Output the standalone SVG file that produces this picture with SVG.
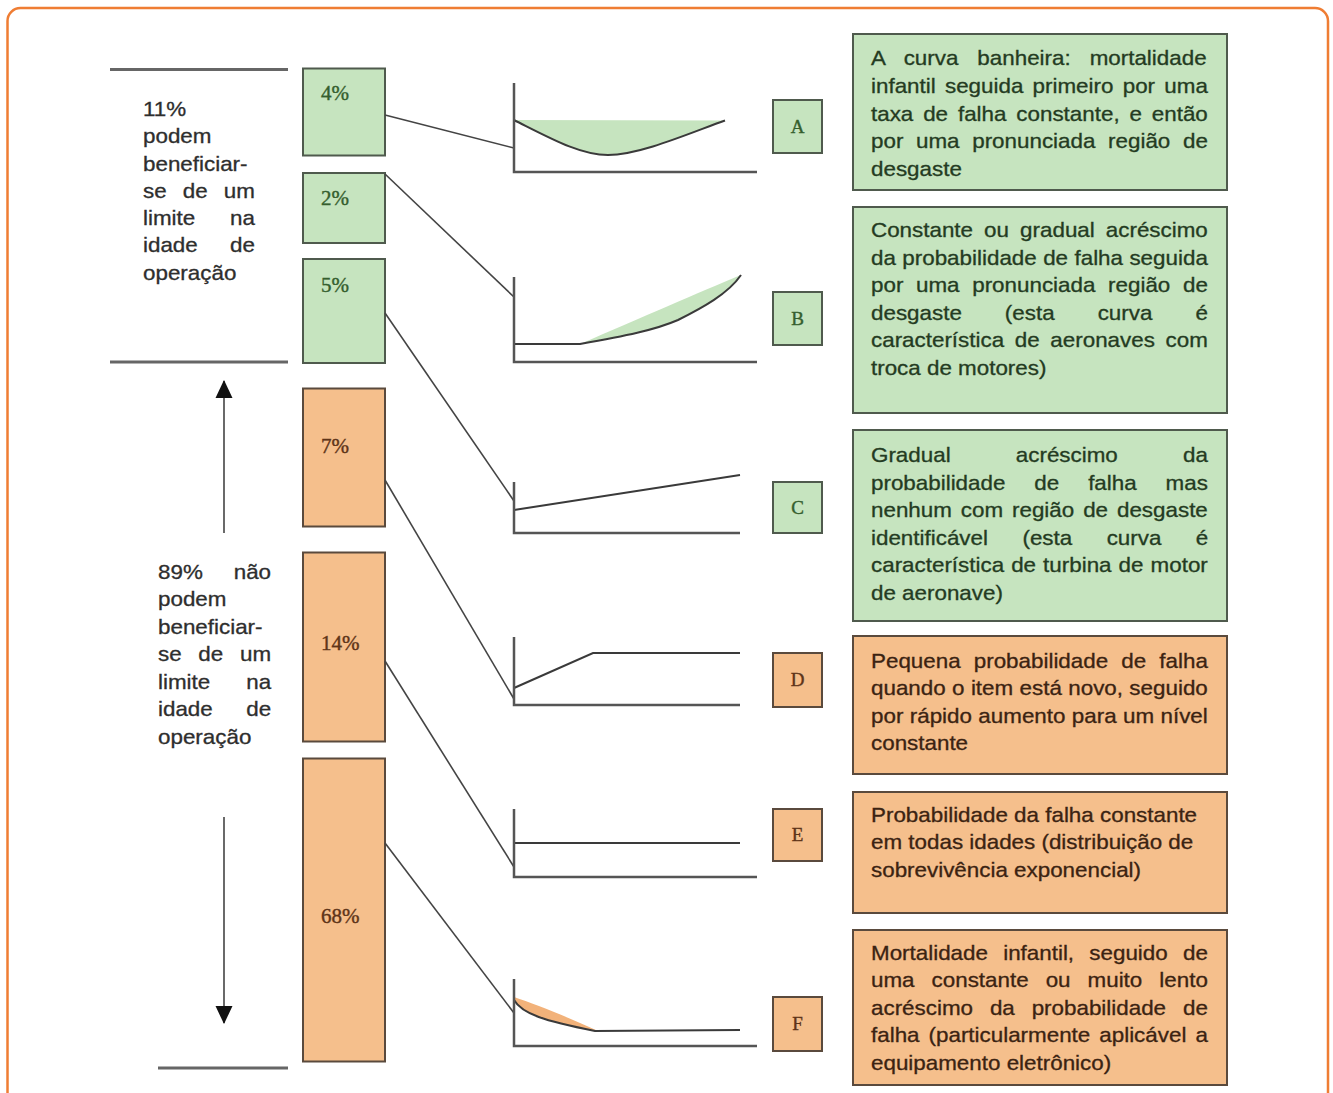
<svg xmlns="http://www.w3.org/2000/svg" width="1333" height="1093" viewBox="0 0 1333 1093">
<defs>
<style>
.frame{fill:#ffffff;stroke:#EF7D33;stroke-width:2.5}
.sep{stroke:#666;stroke-width:3;fill:none}
.pg{fill:#C6E4BF;stroke:#4f5a4d;stroke-width:2}
.po{fill:#F5BF8C;stroke:#5a4a3d;stroke-width:2}
.pct{font-family:"Liberation Serif","Times New Roman",serif;font-size:21px;stroke-width:0.4}
.tg{fill:#355e2e;stroke:#355e2e}
.to{fill:#5e3418;stroke:#5e3418}
.lt{font-family:"Liberation Sans",Arial,sans-serif;font-size:20px;fill:#2e2e2e;stroke:#2e2e2e;stroke-width:0.3}
.dt{font-family:"Liberation Sans",Arial,sans-serif;font-size:20px;stroke-width:0.3}
.dg{fill:#243b22;stroke:#243b22}
.do{fill:#3b2312;stroke:#3b2312}
.ax{stroke:#555;stroke-width:2.5;fill:none}
.cv{stroke:#3a3a3a;stroke-width:2;fill:none}
.cn{stroke:#444;stroke-width:1.6;fill:none}
.ar{stroke:#444;stroke-width:1.6;fill:none}
.let{font-family:"Liberation Serif","Times New Roman",serif;font-size:19px;text-anchor:middle;stroke-width:0.4}
</style>
<marker id="ah2" viewBox="0 0 18 18" refX="17" refY="9" markerWidth="18" markerHeight="18" markerUnits="userSpaceOnUse" orient="auto">
<path d="M0,0.5 L18,9 L0,17.5 Z" fill="#111"/>
</marker>
</defs>

<rect class="frame" x="7.5" y="8" width="1320.5" height="1110" rx="13"/>

<g id="separators">
<line class="sep" x1="110" y1="69.5" x2="288" y2="69.5"/>
<line class="sep" x1="110" y1="362" x2="288" y2="362"/>
<line class="sep" x1="158" y1="1068" x2="288" y2="1068"/>
</g>

<g id="label-11">
<g transform="translate(143 0) scale(1.12 1)" class="lt">
<text x="0" y="116">11%</text>
<text x="0" y="143.3">podem</text>
<text x="0" y="170.6">beneficiar-</text>
<text x="0" y="197.9" word-spacing="8.87">se de um</text>
<text x="0" y="225.2" word-spacing="25.54">limite na</text>
<text x="0" y="252.5" word-spacing="23.28">idade de</text>
<text x="0" y="279.8">operação</text>
</g>
</g>

<g id="label-89">
<g transform="translate(158 0) scale(1.12 1)" class="lt">
<text x="0" y="579" word-spacing="22.06">89% não</text>
<text x="0" y="606.5">podem</text>
<text x="0" y="634">beneficiar-</text>
<text x="0" y="661.5" word-spacing="9.37">se de um</text>
<text x="0" y="689" word-spacing="26.54">limite na</text>
<text x="0" y="716.5" word-spacing="24.28">idade de</text>
<text x="0" y="744">operação</text>
</g>
</g>

<g id="arrows">
<line class="ar" x1="224" y1="533" x2="224" y2="381" marker-end="url(#ah2)"/>
<line class="ar" x1="224" y1="817" x2="224" y2="1023" marker-end="url(#ah2)"/>
</g>

<g id="p4"><rect class="pg" x="303" y="68.5" width="82" height="87"/><text class="pct tg" x="321" y="100">4%</text></g>
<g id="p2"><rect class="pg" x="303" y="173" width="82" height="70"/><text class="pct tg" x="321" y="205">2%</text></g>
<g id="p5"><rect class="pg" x="303" y="259" width="82" height="104"/><text class="pct tg" x="321" y="292">5%</text></g>
<g id="p7"><rect class="po" x="303" y="388.5" width="82" height="138"/><text class="pct to" x="321" y="453">7%</text></g>
<g id="p14"><rect class="po" x="303" y="552.5" width="82" height="189"/><text class="pct to" x="321" y="650">14%</text></g>
<g id="p68"><rect class="po" x="303" y="758.5" width="82" height="303"/><text class="pct to" x="321" y="923">68%</text></g>

<g id="connectors">
<line class="cn" x1="385" y1="115" x2="514" y2="148"/>
<line class="cn" x1="385" y1="174" x2="514" y2="297"/>
<line class="cn" x1="385" y1="313" x2="514" y2="501"/>
<line class="cn" x1="385" y1="480" x2="514" y2="699"/>
<line class="cn" x1="385" y1="661" x2="514" y2="867"/>
<line class="cn" x1="385" y1="843" x2="514" y2="1013"/>
</g>

<g id="graph-A">
<path d="M514,120 C550,138 580,155 608,155 C640,155 690,133 725,120.5 Z" fill="#C6E4BF"/>
<path class="cv" d="M514,120 C550,138 580,155 608,155 C640,155 690,133 725,120.5"/>
<path class="ax" d="M514,83 V172 H757"/>
</g>
<g id="graph-B">
<path d="M580,344 C625,336 655,330 678,320 C702,308 728,294 741,275 C700,292 640,318 580,344 Z" fill="#C6E4BF"/>
<path class="cv" d="M514,344 H580 C625,336 655,330 678,320 C702,308 728,294 741,275"/>
<path class="ax" d="M514,277 V362 H757"/>
</g>
<g id="graph-C">
<path class="cv" d="M514,510 L740,475"/>
<path class="ax" d="M514,482 V533 H740"/>
</g>
<g id="graph-D">
<path class="cv" d="M514,688 L593,653 H740"/>
<path class="ax" d="M514,637 V705 H740"/>
</g>
<g id="graph-E">
<path class="cv" d="M514,843 H740"/>
<path class="ax" d="M514,809 V877 H757"/>
</g>
<g id="graph-F">
<path d="M514,997 C535,1004 570,1018 598,1031 L595,1031 C545,1021 522,1014 514,1000 Z" fill="#F2B27A"/>
<path class="cv" d="M514,1000 C522,1014 545,1021 595,1031 L740,1030"/>
<path class="ax" d="M514,979 V1046 H757"/>
</g>

<g id="box-A"><rect class="pg" x="773" y="100" width="49" height="53"/><text class="let tg" x="797.5" y="133">A</text></g>
<g id="box-B"><rect class="pg" x="773" y="292" width="49" height="53"/><text class="let tg" x="797.5" y="325">B</text></g>
<g id="box-C"><rect class="pg" x="773" y="482" width="49" height="51"/><text class="let tg" x="797.5" y="514">C</text></g>
<g id="box-D"><rect class="po" x="773" y="653" width="49" height="54"/><text class="let to" x="797.5" y="686">D</text></g>
<g id="box-E"><rect class="po" x="773" y="809" width="49" height="52"/><text class="let to" x="797.5" y="841">E</text></g>
<g id="box-F"><rect class="po" x="773" y="997" width="49" height="54"/><text class="let to" x="797.5" y="1030">F</text></g>

<g id="desc-A">
<rect class="pg" x="853" y="34" width="374" height="156"/>
<g transform="translate(871 0) scale(1.12 1)" class="dt dg">
<text x="0" y="65.5" word-spacing="11.37">A curva banheira: mortalidade</text>
<text x="0" y="93.1" word-spacing="2.7">infantil seguida primeiro por uma</text>
<text x="0" y="120.7" word-spacing="3.25">taxa de falha constante, e então</text>
<text x="0" y="148.3" word-spacing="5.75">por uma pronunciada região de</text>
<text x="0" y="175.9">desgaste</text>
</g>
</g>

<g id="desc-B">
<rect class="pg" x="853" y="207" width="374" height="206"/>
<g transform="translate(871 0) scale(1.12 1)" class="dt dg">
<text x="0" y="237" word-spacing="4.33">Constante ou gradual acréscimo</text>
<text x="0" y="264.6" word-spacing="0.18">da probabilidade de falha seguida</text>
<text x="0" y="292.2" word-spacing="5.75">por uma pronunciada região de</text>
<text x="0" y="319.8" word-spacing="32.86">desgaste (esta curva é</text>
<text x="0" y="347.4" word-spacing="3.97">característica de aeronaves com</text>
<text x="0" y="375">troca de motores)</text>
</g>
</g>

<g id="desc-C">
<rect class="pg" x="853" y="430" width="374" height="191"/>
<g transform="translate(871 0) scale(1.12 1)" class="dt dg">
<text x="0" y="462" word-spacing="52.64">Gradual acréscimo da</text>
<text x="0" y="489.6" word-spacing="20.26">probabilidade de falha mas</text>
<text x="0" y="517.2" word-spacing="2.41">nenhum com região de desgaste</text>
<text x="0" y="544.8" word-spacing="25.22">identificável (esta curva é</text>
<text x="0" y="572.4" word-spacing="0.75">característica de turbina de motor</text>
<text x="0" y="600">de aeronave)</text>
</g>
</g>

<g id="desc-D">
<rect class="po" x="853" y="636" width="374" height="138"/>
<g transform="translate(871 0) scale(1.12 1)" class="dt do">
<text x="0" y="668" word-spacing="6.17">Pequena probabilidade de falha</text>
<text x="0" y="695.5" word-spacing="0.14">quando o item está novo, seguido</text>
<text x="0" y="723" word-spacing="0.15">por rápido aumento para um nível</text>
<text x="0" y="750.5">constante</text>
</g>
</g>

<g id="desc-E">
<rect class="po" x="853" y="792" width="374" height="121"/>
<g transform="translate(871 0) scale(1.12 1)" class="dt do">
<text x="0" y="822">Probabilidade da falha constante</text>
<text x="0" y="849.5">em todas idades (distribuição de</text>
<text x="0" y="877">sobrevivência exponencial)</text>
</g>
</g>

<g id="desc-F">
<rect class="po" x="853" y="930" width="374" height="155"/>
<g transform="translate(871 0) scale(1.12 1)" class="dt do">
<text x="0" y="960" word-spacing="8.03">Mortalidade infantil, seguido de</text>
<text x="0" y="987.5" word-spacing="9.64">uma constante ou muito lento</text>
<text x="0" y="1015" word-spacing="9.52">acréscimo da probabilidade de</text>
<text x="0" y="1042.5" word-spacing="2.49">falha (particularmente aplicável a</text>
<text x="0" y="1070">equipamento eletrônico)</text>
</g>
</g>
</svg>
